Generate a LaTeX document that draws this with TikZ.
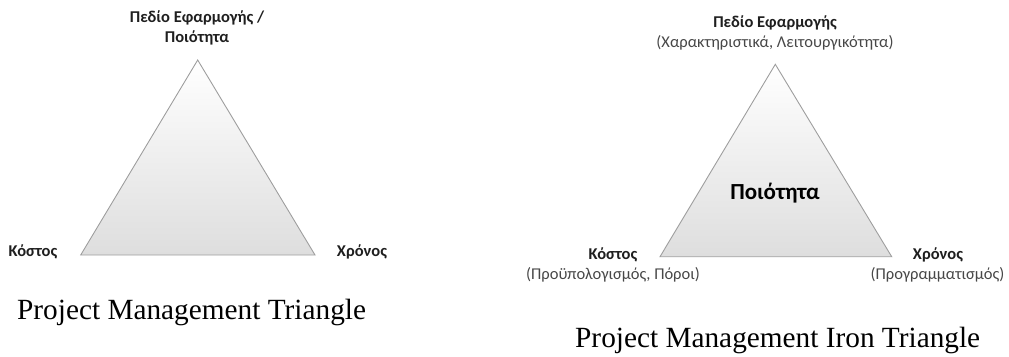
\documentclass[tikz,border=0pt]{standalone}
\usepackage{fontspec}
\setmainfont{Liberation Serif}
\newfontfamily\labelfont{Carlito}
\begin{document}
\begin{tikzpicture}[x=1pt,y=-1pt,
  tri/.style={draw=black!38, line width=0.9pt, top color=white, bottom color=black!13},
  head/.style={font=\labelfont\bfseries\fontsize{16.5}{20}\selectfont, text=black!88, align=center, inner sep=0pt},
  sub/.style={font=\labelfont\fontsize{16.5}{20}\selectfont, text=black!72, inner sep=0pt},
  core/.style={font=\labelfont\bfseries\fontsize{23}{26}\selectfont, text=black, inner sep=0pt},
  caption/.style={font=\fontsize{29.3}{32}\selectfont, text=black, inner sep=0pt, anchor=base west}]
\useasboundingbox (0,0) rectangle (1009,356);

% Project management triangle
\coordinate (a1) at (197.7,60);
\coordinate (b1) at (80.7,255);
\coordinate (c1) at (315,255);
\draw[tri] (a1) -- (b1) -- (c1) -- cycle;
\node[head] (scope1) at (197,28) {Πεδίο Εφαρμογής /\\Ποιότητα};
\node[head] (cost1) at (33,252) {Κόστος};
\node[head] (time1) at (362,252) {Χρόνος};
\node[caption] (cap1) at (17,319) {Project Management Triangle};

% Iron triangle
\coordinate (a2) at (775.3,64.3);
\coordinate (b2) at (660,256.7);
\coordinate (c2) at (891.7,256.7);
\draw[tri] (a2) -- (b2) -- (c2) -- cycle;
\node[head] (scope2) at (775,23) {Πεδίο Εφαρμογής};
\node[sub] (scope2s) at (775,43) {(Χαρακτηριστικά, Λειτουργικότητα)};
\node[core] (quality) at (775,193) {Ποιότητα};
\node[head] (cost2) at (613,255) {Κόστος};
\node[sub] (cost2s) at (613,275) {(Προϋπολογισμός, Πόροι)};
\node[head] (time2) at (938,255) {Χρόνος};
\node[sub] (time2s) at (937.5,275) {(Προγραμματισμός)};
\node[caption] (cap2) at (575,347) {Project Management Iron Triangle};
\end{tikzpicture}
\end{document}
